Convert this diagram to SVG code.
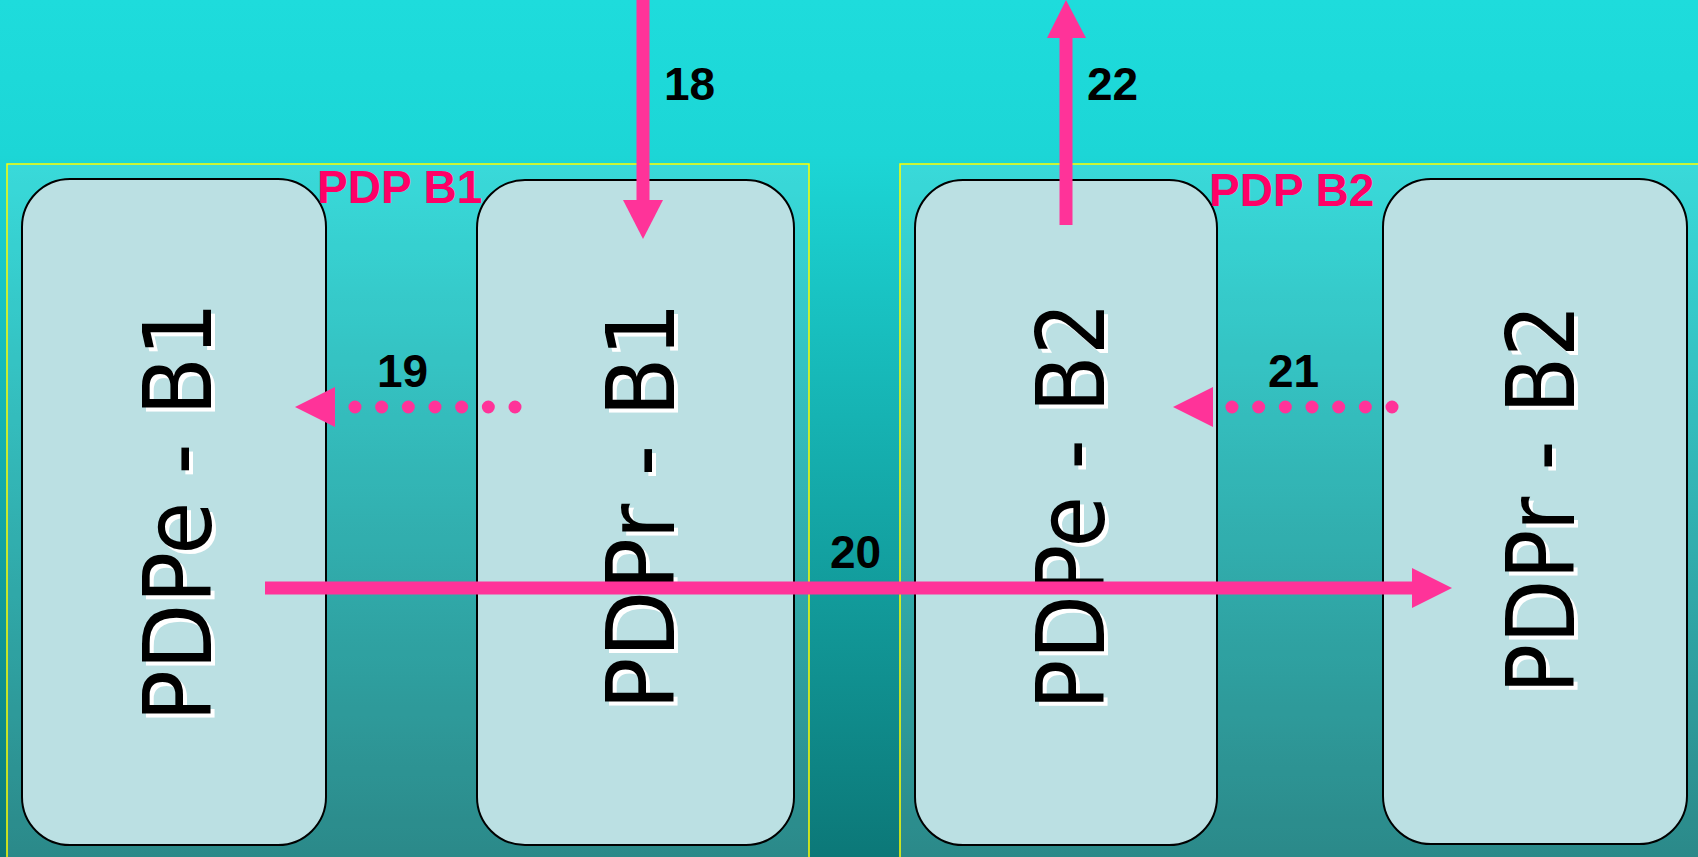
<svg xmlns="http://www.w3.org/2000/svg" width="1698" height="857" viewBox="0 0 1698 857">
<defs>
<linearGradient id="bg" x1="0" y1="0" x2="0" y2="1">
<stop offset="0" stop-color="#1edcdc"/>
<stop offset="0.18" stop-color="#1cd6d6"/>
<stop offset="1" stop-color="#0c7878"/>
</linearGradient>
<style>
.grp{fill:#ffffff;fill-opacity:0.13;stroke:#ffff00;stroke-width:1.5}
.node{fill:#bbe0e3;stroke:#000;stroke-width:2}
.nt{font-family:"DejaVu Sans",Verdana,sans-serif;font-size:94px;fill:#000}
.sh{fill:#fff}
.glabel{font-family:"Liberation Sans",Arial,sans-serif;font-weight:bold;font-size:46px;fill:#ff0066}
.lbl{font-family:"Liberation Sans",Arial,sans-serif;font-weight:bold;font-size:46px;fill:#000}
.shaft{stroke:#ff3399;stroke-width:13;fill:none}
.dots{stroke:#ff3399;stroke-width:13;stroke-linecap:round;stroke-dasharray:0 26.67;fill:none}
.head{fill:#ff3399}
</style>
</defs>
<rect x="0" y="0" width="1698" height="857" fill="url(#bg)"/>
<g id="group-b1"><rect class="grp" x="7" y="164" width="802" height="720"/></g>
<g id="group-b2"><rect class="grp" x="900" y="164" width="820" height="720"/></g>
<g id="node-pdpe-b1">
<rect class="node" x="22" y="179" width="304" height="666" rx="48" ry="48"/>
<text class="nt sh" transform="translate(215,726) rotate(-90)" textLength="420" lengthAdjust="spacingAndGlyphs">PDPe - B1</text>
<text class="nt" transform="translate(211,722) rotate(-90)" textLength="420" lengthAdjust="spacingAndGlyphs">PDPe - B1</text>
</g>
<g id="node-pdpr-b1">
<rect class="node" x="477" y="180" width="317" height="665" rx="48" ry="48"/>
<text class="nt sh" transform="translate(678,714) rotate(-90)" textLength="408" lengthAdjust="spacingAndGlyphs">PDPr - B1</text>
<text class="nt" transform="translate(674,710) rotate(-90)" textLength="408" lengthAdjust="spacingAndGlyphs">PDPr - B1</text>
</g>
<g id="node-pdpe-b2">
<rect class="node" x="915" y="180" width="302" height="665" rx="48" ry="48"/>
<text class="nt sh" transform="translate(1108,714) rotate(-90)" textLength="408" lengthAdjust="spacingAndGlyphs">PDPe - B2</text>
<text class="nt" transform="translate(1104,710) rotate(-90)" textLength="408" lengthAdjust="spacingAndGlyphs">PDPe - B2</text>
</g>
<g id="node-pdpr-b2">
<rect class="node" x="1383" y="179" width="304" height="665" rx="48" ry="48"/>
<text class="nt sh" transform="translate(1578,698) rotate(-90)" textLength="390" lengthAdjust="spacingAndGlyphs">PDPr - B2</text>
<text class="nt" transform="translate(1574,694) rotate(-90)" textLength="390" lengthAdjust="spacingAndGlyphs">PDPr - B2</text>
</g>
<g id="group-labels">
<text class="glabel" x="317" y="203">PDP B1</text>
<text class="glabel" x="1209" y="206">PDP B2</text>
</g>
<g id="connectors">
<g id="c18">
<line class="shaft" x1="643" y1="0" x2="643" y2="201"/>
<polygon class="head" points="623,200 663,200 643,239"/>
<text class="lbl" x="664" y="100">18</text>
</g>
<g id="c19">
<line class="dots" x1="515" y1="407" x2="354" y2="407"/>
<polygon class="head" points="335,387 335,427 295,407"/>
<text class="lbl" x="377" y="387">19</text>
</g>
<g id="c20">
<line class="shaft" x1="265" y1="588" x2="1413" y2="588"/>
<polygon class="head" points="1412,568 1412,608 1452,588"/>
<text class="lbl" x="830" y="568">20</text>
</g>
<g id="c21">
<line class="dots" x1="1392" y1="407" x2="1231" y2="407"/>
<polygon class="head" points="1213,387 1213,427 1173,407"/>
<text class="lbl" x="1268" y="387">21</text>
</g>
<g id="c22">
<line class="shaft" x1="1066" y1="225" x2="1066" y2="37"/>
<polygon class="head" points="1047,38 1086,38 1066,0"/>
<text class="lbl" x="1087" y="100">22</text>
</g>
</g>
</svg>
